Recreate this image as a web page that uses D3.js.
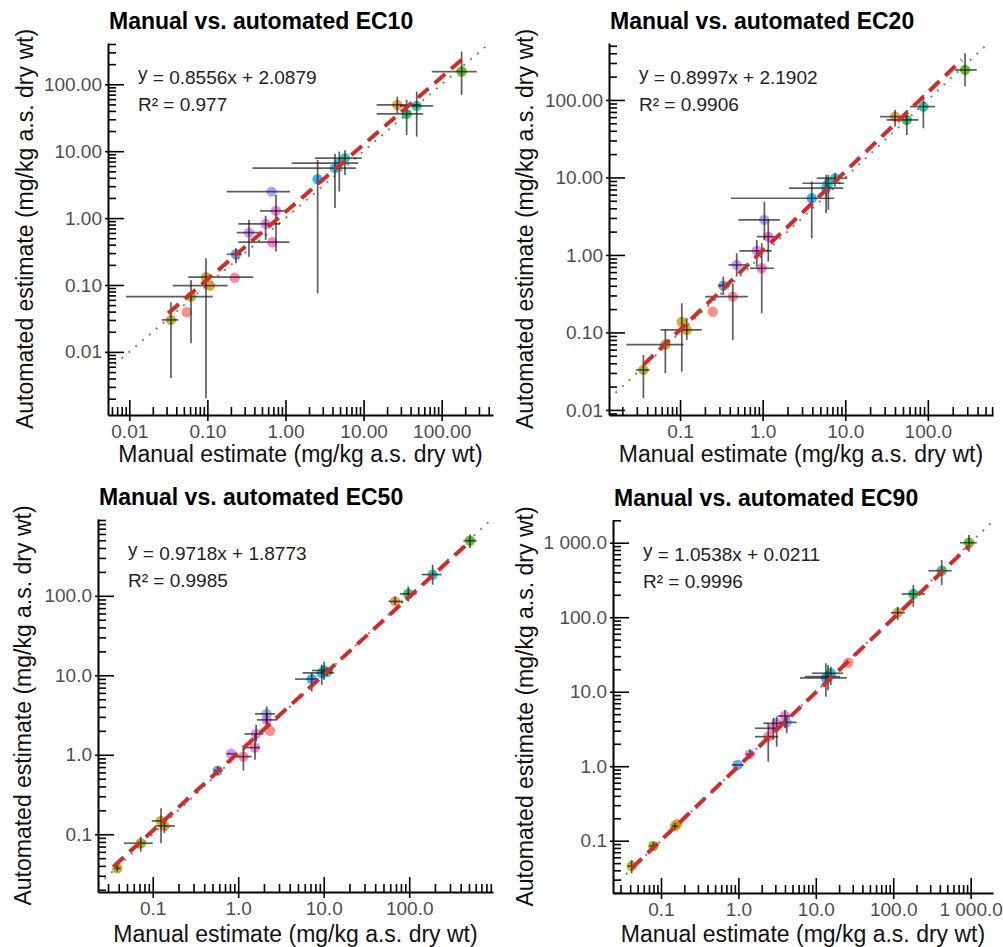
<!DOCTYPE html>
<html>
<head>
<meta charset="utf-8">
<script src="https://cdn.jsdelivr.net/npm/d3@7"></script>
<style>
  body { margin: 0; background: #fff; }
  svg { font-family: "Liberation Sans", Arial, sans-serif; }
</style>
</head>
<body>
<div id="chart"></div>
<script>
// point rows: [group, manual, automated, manualLo, manualHi, autoLo, autoHi]
const ec10Points = [
  [3, 0.0342, 0.0301, 0.026, 0.0424, 0.00408, 0.0553],
  [0, 0.0543, 0.0392, null, null, null, null],
  [4, 0.0617, 0.0671, 0.00908, 0.117, 0.0135, 0.119],
  [2, 0.096, 0.131, 0.0569, 0.387, 0.00203, 0.251],
  [19, 0.108, 0.098, 0.036, 0.182, null, null],
  [18, 0.224, 0.128, null, null, null, null],
  [12, 0.232, 0.288, 0.177, 0.275, 0.212, 0.355],
  [14, 0.341, 0.607, 0.237, 0.495, 0.265, 0.94],
  [15, 0.557, 0.818, 0.249, 0.851, 0.472, 1.08],
  [17, 0.678, 0.436, 0.249, 1.12, null, null],
  [16, 0.755, 1.28, 0.471, 1.09, 0.316, 2.22],
  [13, 0.665, 2.49, 0.177, 1.14, null, null],
  [11, 2.58, 3.81, null, null, 0.0753, 7.41],
  [10, 4.3, 5.57, 0.378, 8.0, 1.41, 9.12],
  [9, 4.89, 6.62, 1.2, 8.55, 2.49, 9.86],
  [8, 5.78, 7.86, 2.39, 9.46, 4.42, 10.3],
  [1, 27, 49.2, 14.7, 52.7, 37, 65.5],
  [6, 35.6, 36.1, 14.7, 58.1, 17.5, 58.5],
  [7, 47.9, 47.5, 29.2, 78, 16.5, 77.8],
  [5, 180, 155, 74.5, 281, 69.5, 308]
];
const ec20Points = [
  [3, 0.036, 0.0328, 0.0293, 0.0425, 0.0142, 0.0513],
  [4, 0.0664, 0.0697, 0.0224, 0.11, 0.0298, 0.1077],
  [2, 0.105, 0.1365, null, null, 0.0312, 0.238],
  [19, 0.1205, 0.1077, 0.058, 0.183, 0.08, 0.153],
  [0, 0.249, 0.185, null, null, null, null],
  [18, 0.435, 0.29, 0.201, 0.661, 0.08, 0.431],
  [12, 0.334, 0.402, 0.288, 0.403, 0.305, 0.525],
  [14, 0.485, 0.743, 0.385, 0.641, 0.525, 1.05],
  [17, 0.975, 0.673, 0.703, 1.37, 0.177, 1.42],
  [15, 0.849, 1.13, 0.523, 1.29, 0.706, 1.56],
  [16, 1.17, 1.72, 0.849, 1.62, 0.82, 2.83],
  [13, 1.05, 2.83, 0.508, 1.62, 1.56, 4.87],
  [11, 3.93, 5.39, 0.414, 7.38, 1.64, 8.83],
  [10, 5.86, 7.26, 2.09, 9.49, 3.45, 10.8],
  [9, 6.24, 8.41, 3.03, 9.67, 3.81, 10.8],
  [8, 7.53, 9.77, 4.52, 10.6, 7.6, 11.3],
  [1, 40.1, 60.9, 26.4, 55.6, 45.3, 74.3],
  [6, 55.6, 55.2, 31.8, 76.7, 35.3, 74.3],
  [7, 88.3, 82, 60.9, 122, 43.1, 116],
  [5, 282, 244, 213, 391, 149, 401]
];
const ec50Points = [
  [3, 0.0385, 0.0373, 0.0356, 0.0418, 0.0342, 0.0407],
  [4, 0.0724, 0.0771, 0.0461, 0.1, 0.0604, 0.0933],
  [2, 0.125, 0.147, 0.0973, 0.146, 0.0771, 0.212],
  [19, 0.137, 0.127, 0.106, 0.182, 0.103, 0.151],
  [12, 0.575, 0.632, 0.52, 0.64, 0.565, 0.71],
  [14, 0.824, 1.03, 0.733, 0.96, null, null],
  [18, 1.15, 0.948, 0.918, 1.44, 0.632, 1.29],
  [17, 1.57, 1.23, 1.2, 1.8, 0.863, 1.78],
  [15, 1.62, 1.83, 1.18, 1.97, 1.47, 2.38],
  [16, 2.15, 2.75, 1.65, 2.82, 2.27, 3.34],
  [13, 2.15, 3.27, 1.57, 2.69, 2.5, 4.05],
  [0, 2.36, 2.0, null, null, null, null],
  [11, 7.24, 8.96, 4.62, 8.28, 6.25, 10.7],
  [10, 9.48, 10.7, 5.68, 13.2, 7.6, 13.6],
  [9, 10.1, 11.5, 7.3, 12.8, 8.78, 14.8],
  [8, 10.9, 11.0, 9.5, 12.5, 9.8, 12.3],
  [1, 68.2, 85, 57, 85.3, 77.3, 98.2],
  [6, 97.6, 106, 78, 122, 85, 131],
  [7, 188, 185, 140, 240, 138, 246],
  [5, 514, 494, 430, 616, 400, 589]
];
const ec90Points = [
  [3, 0.0418, 0.0457, 0.037, 0.047, 0.0365, 0.0551],
  [4, 0.0796, 0.0849, 0.071, 0.089, 0.075, 0.096],
  [2, 0.152, 0.157, 0.138, 0.168, 0.143, 0.173],
  [19, 0.161, 0.167, null, null, null, null],
  [12, 0.98, 1.04, 0.82, 1.17, null, null],
  [14, 1.41, 1.45, 1.25, 1.6, 1.28, 1.65],
  [18, 2.43, 2.49, 1.64, 3.28, 1.15, 3.77],
  [17, 2.83, 3.23, 1.64, 3.12, 2.25, 4.44],
  [15, 3.12, 3.77, 2.1, 3.8, 1.83, 4.62],
  [16, 4.0, 4.72, 3.2, 4.64, 3.23, 5.68],
  [13, 4.21, 3.88, 3.45, 5.66, 2.77, 4.62],
  [0, 26.3, 24.5, null, null, null, null],
  [11, 13.5, 15.3, 6.25, 25.1, 8.57, 24.1],
  [10, 14.4, 15.9, 7.25, 20.5, 10.5, 22.8],
  [9, 15.6, 17.7, 8.93, 22.5, 12.3, 21.7],
  [1, 114, 115, 92.9, 142, 91.7, 138],
  [6, 182, 205, 129, 258, 138, 271],
  [7, 423, 421, 284, 570, 271, 586],
  [5, 953, 1000, 729, 1200, 757, 1268]
];

// fitted line end points [manual, automated]
const ec10Fit = [[0.0315, 0.0378], [180, 232]];
const ec20Fit = [[0.036, 0.0381], [257, 328]];
const ec50Fit = [[0.0346, 0.0391], [491, 462]];
const ec90Fit = [[0.0418, 0.0426], [982, 931]];

const titles = ["Manual vs. automated EC10", "Manual vs. automated EC20",
                "Manual vs. automated EC50", "Manual vs. automated EC90"];
const equations = [" = 0.8556x + 2.0879", " = 0.8997x + 2.1902",
                   " = 0.9718x + 1.8773", " = 1.0538x + 0.0211"];
const r2Values = ["0.977", "0.9906", "0.9985", "0.9996"];

const ec10XTicks = [0.01, 0.1, 1, 10, 100];
const ec10XLabels = ["0.01", "0.10", "1.00", "10.00", "100.00"];
const ec10YTicks = [0.01, 0.1, 1, 10, 100];
const ec10YLabels = ["0.01", "0.10", "1.00", "10.00", "100.00"];
const ec20XTicks = [0.1, 1, 10, 100];
const ec20XLabels = ["0.1", "1.0", "10.0", "100.0"];
const ec20YTicks = [0.01, 0.1, 1, 10, 100];
const ec20YLabels = ["0.01", "0.10", "1.00", "10.00", "100.00"];
const ec50XTicks = [0.1, 1, 10, 100];
const ec50XLabels = ["0.1", "1.0", "10.0", "100.0"];
const ec50YTicks = [0.1, 1, 10, 100];
const ec50YLabels = ["0.1", "1.0", "10.0", "100.0"];
const ec90XTicks = [0.1, 1, 10, 100, 1000];
const ec90XLabels = ["0.1", "1.0", "10.0", "100.0", "1 000.0"];
const ec90YTicks = [0.1, 1, 10, 100, 1000];
const ec90YLabels = ["0.1", "1.0", "10.0", "100.0", "1 000.0"];

const xTitle = "Manual estimate (mg/kg a.s. dry wt)";
const yTitle = "Automated estimate (mg/kg a.s. dry wt)";

// one colour per test substance
const palette = ["#F8766D", "#E58A1F", "#C49A00", "#A3A500", "#7CAE00", "#39B600",
  "#00BB4E", "#00C08B", "#00C1AA", "#00BFC4", "#00B4EF", "#00A5FF", "#3D8EE8",
  "#8F91FF", "#C77CFF", "#E76BF3", "#FA62DB", "#FF62BC", "#FF6C91", "#D39200"];

const panels = [
  {id: 1, title: titles[0], eq: equations[0], r2: r2Values[0], points: ec10Points, fit: ec10Fit,
   xTicks: ec10XTicks, xLabels: ec10XLabels, yTicks: ec10YTicks, yLabels: ec10YLabels,
   frame: {left: 108, right: 493, top: 43, bottom: 415},
   xDomain: [0.00534, 454], yDomain: [0.00114, 414], yTitleX: 33, xTitleY: 462},
  {id: 2, title: titles[1], eq: equations[1], r2: r2Values[1], points: ec20Points, fit: ec20Fit,
   xTicks: ec20XTicks, xLabels: ec20XLabels, yTicks: ec20YTicks, yLabels: ec20YLabels,
   frame: {left: 609, right: 993, top: 43, bottom: 415},
   xDomain: [0.0138, 615], yDomain: [0.0086, 543], yTitleX: 533, xTitleY: 462},
  {id: 3, title: titles[2], eq: equations[2], r2: r2Values[2], points: ec50Points, fit: ec50Fit,
   xTicks: ec50XTicks, xLabels: ec50XLabels, yTicks: ec50YTicks, yLabels: ec50YLabels,
   frame: {left: 98, right: 493, top: 519, bottom: 892},
   xDomain: [0.0229, 955], yDomain: [0.01876, 926], yTitleX: 31, xTitleY: 942},
  {id: 4, title: titles[3], eq: equations[3], r2: r2Values[3], points: ec90Points, fit: ec90Fit,
   xTicks: ec90XTicks, xLabels: ec90XLabels, yTicks: ec90YTicks, yLabels: ec90YLabels,
   frame: {left: 613, right: 993, top: 520, bottom: 893},
   xDomain: [0.024, 1945], yDomain: [0.01986, 2018], yTitleX: 533, xTitleY: 942}
];

const svg = d3.select("#chart").append("svg")
    .attr("width", 1003)
    .attr("height", 947);

// 2..9 times every power of ten inside the domain
function minorTicks(dom) {
  let out = [];
  for (let e = Math.floor(Math.log10(dom[0])); e <= Math.ceil(Math.log10(dom[1])); e++) {
    for (let k = 2; k <= 9; k++) {
      let v = +(k * Math.pow(10, e)).toPrecision(6);
      if (v >= dom[0] && v <= dom[1]) out.push(v);
    }
  }
  return out;
}

function styleAxis(a) {
  a.attr("font-size", null).attr("font-family", null);
  a.select(".domain").attr("stroke", "#000").attr("stroke-width", 2);
  a.selectAll(".tick line").attr("stroke", "#000").attr("stroke-width", 1.6);
  a.selectAll(".tick text").attr("fill", "#4d4d4d").style("font-size", "19px");
}

function drawPanel(p) {
  let f = p.frame;
  let g = svg.append("g");

  let x = d3.scaleLog().domain(p.xDomain).range([f.left, f.right]);
  let y = d3.scaleLog().domain(p.yDomain).range([f.bottom, f.top]);

  svg.append("clipPath").attr("id", "clip" + p.id)
    .append("rect")
    .attr("x", f.left).attr("y", f.top)
    .attr("width", f.right - f.left).attr("height", f.bottom - f.top);

  let plot = g.append("g").attr("clip-path", `url(#clip${p.id})`);

  // 1:1 line
  let lo = Math.max(p.xDomain[0], p.yDomain[0]);
  let hi = Math.min(p.xDomain[1], p.yDomain[1]);
  plot.append("line")
    .attr("x1", x(lo)).attr("y1", y(lo))
    .attr("x2", x(hi)).attr("y2", y(hi))
    .attr("stroke", "#808080")
    .attr("stroke-width", 2)
    .attr("stroke-dasharray", "2,7");

  // points
  plot.selectAll(".pt")
    .data(p.points)
    .enter()
    .append("circle")
    .attr("class", "pt")
    .attr("cx", d => x(d[1]))
    .attr("cy", d => y(d[2]))
    .attr("r", 5.2)
    .attr("fill", d => palette[d[0]])
    .attr("fill-opacity", 0.8);

  // error bars
  plot.selectAll(".hbar")
    .data(p.points.filter(d => d[3] !== null))
    .enter()
    .append("line")
    .attr("x1", d => x(d[3])).attr("x2", d => x(d[4]))
    .attr("y1", d => y(d[2])).attr("y2", d => y(d[2]))
    .attr("stroke", "#1a1a1a").attr("stroke-opacity", 0.7).attr("stroke-width", 1.7);

  plot.selectAll(".vbar")
    .data(p.points.filter(d => d[5] !== null))
    .enter()
    .append("line")
    .attr("x1", d => x(d[1])).attr("x2", d => x(d[1]))
    .attr("y1", d => y(d[5])).attr("y2", d => y(d[6]))
    .attr("stroke", "#1a1a1a").attr("stroke-opacity", 0.7).attr("stroke-width", 1.7);

  // fitted regression line
  plot.append("line")
    .attr("x1", x(p.fit[0][0])).attr("y1", y(p.fit[0][1]))
    .attr("x2", x(p.fit[1][0])).attr("y2", y(p.fit[1][1]))
    .attr("stroke", "#d42a2a")
    .attr("stroke-width", 4)
    .attr("stroke-dasharray", "14,8");

  // minor ticks
  g.append("g").attr("transform", `translate(0,${f.bottom})`)
    .call(d3.axisBottom(x).tickValues(minorTicks(p.xDomain)).tickSize(-8).tickSizeOuter(0).tickFormat(""))
    .call(styleAxis)
    .call(a => a.select(".domain").remove());
  g.append("g").attr("transform", `translate(${f.left},0)`)
    .call(d3.axisLeft(y).tickValues(minorTicks(p.yDomain)).tickSize(-8).tickSizeOuter(0).tickFormat(""))
    .call(styleAxis)
    .call(a => a.select(".domain").remove());

  // major ticks and labels
  g.append("g").attr("transform", `translate(0,${f.bottom})`)
    .call(d3.axisBottom(x).tickValues(p.xTicks).tickFormat((d, i) => p.xLabels[i])
      .tickSize(-15).tickSizeOuter(0).tickPadding(10))
    .call(styleAxis)
    .call(a => a.selectAll(".tick line").attr("y1", 6));
  g.append("g").attr("transform", `translate(${f.left},0)`)
    .call(d3.axisLeft(y).tickValues(p.yTicks).tickFormat((d, i) => p.yLabels[i])
      .tickSize(-16).tickSizeOuter(0).tickPadding(6))
    .call(styleAxis)
    .call(a => a.selectAll(".tick line").attr("x1", -3));

  // titles
  g.append("text")
    .attr("x", f.left + 1)
    .attr("y", f.top - 14)
    .style("font-size", "23px")
    .style("font-weight", "bold")
    .text(p.title);

  g.append("text")
    .attr("x", (f.left + f.right) / 2)
    .attr("y", p.xTitleY)
    .attr("text-anchor", "middle")
    .style("font-size", "23px")
    .attr("fill", "#111")
    .text(xTitle);

  g.append("text")
    .attr("transform", `translate(${p.yTitleX},${(f.top + f.bottom) / 2}) rotate(-90)`)
    .attr("text-anchor", "middle")
    .style("font-size", "23px")
    .attr("fill", "#111")
    .text(yTitle);

  // equation and R²
  let eq = g.append("text")
    .attr("x", f.left + 30)
    .attr("y", f.top + 41)
    .style("font-size", "19px")
    .attr("fill", "#222");
  eq.append("tspan").attr("dy", -4).text("y");
  eq.append("tspan").attr("dy", 4).text(p.eq);

  g.append("text")
    .attr("x", f.left + 30)
    .attr("y", f.top + 68)
    .style("font-size", "19px")
    .attr("fill", "#222")
    .text("R² = " + p.r2);
}

panels.forEach(drawPanel);
</script>
</body>
</html>
